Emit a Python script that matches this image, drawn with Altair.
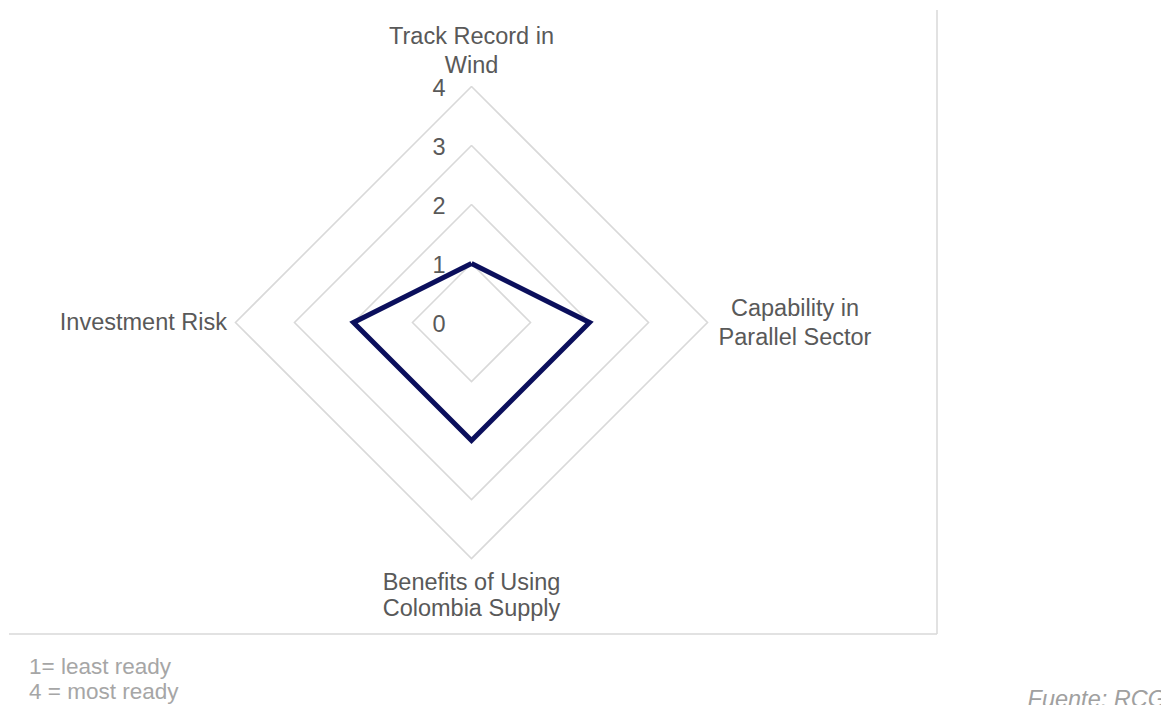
import altair as alt
import pandas as pd
import numpy as np

# ---- data ----
categories = ["Track Record in\nWind", "Capability in\nParallel Sector",
              "Benefits of Using\nColombia Supply", "Investment Risk"]
angles_deg = [0, 90, 180, 270]
values = [1, 2, 2, 2]
ring_levels = [1, 2, 3, 4]
tick_values = [0, 1, 2, 3, 4]
note_lines = ["1= least ready", "4 = most ready"]
source_text = "Fuente:  RCG"

# ---- derived tables ----
def pt(r, a):
    t = np.deg2rad(a)
    return r * np.sin(t), r * np.cos(t)

ring_rows = []
for lvl in ring_levels:
    for i, a in enumerate(angles_deg + [angles_deg[0]]):
        x, y = pt(lvl, a)
        ring_rows.append({"ring": lvl, "idx": i, "x": x, "y": y})
rings = pd.DataFrame(ring_rows)

poly_rows = []
for i, (a, v) in enumerate(zip(angles_deg + [angles_deg[0]], values + [values[0]])):
    x, y = pt(v, a)
    poly_rows.append({"idx": i, "x": x, "y": y})
poly = pd.DataFrame(poly_rows)

outer = max(ring_levels)
lab_rows = []
for c, a in zip(categories, angles_deg):
    x, y = pt(outer, a)
    lab_rows.append({"cat": c, "x": x, "y": y})
labels = pd.DataFrame(lab_rows)

ticks = pd.DataFrame({"v": tick_values, "x": [0] * len(tick_values),
                      "label": [str(t) for t in tick_values]})

# ---- scales: 59 px per unit, centre at page (471.5, 322.5) ----
W, H = 1153, 697
PX = 59.0
cx, cy = 463.5, 314.5
xs = alt.Scale(domain=[-cx / PX, (W - cx) / PX], nice=False, zero=False)
ys = alt.Scale(domain=[-(H - cy) / PX, cy / PX], nice=False, zero=False)
X = lambda f="x": alt.X(f"{f}:Q", scale=xs, axis=None)
Y = lambda f="y": alt.Y(f"{f}:Q", scale=ys, axis=None)

TXT = "#595959"
FONT = "Liberation Sans"
FS = 23.5

grid = alt.Chart(rings).mark_line(color="#d9d9d9", strokeWidth=1.6).encode(
    x=X(), y=Y(), detail="ring:N", order="idx:Q")

shape = alt.Chart(poly).mark_line(color="#0b0f5c", strokeWidth=5,
                                  strokeJoin="miter").encode(
    x=X(), y=Y(), order="idx:Q")

tick_text = alt.Chart(ticks).mark_text(
    align="right", baseline="middle", dx=-26, dy=2,
    font=FONT, fontSize=FS, color=TXT).encode(
    x=X(), y=Y("v"), text="label:N")

# first-line placement offsets relative to each outer vertex
lab_style = [
    dict(align="center", dx=0, dy=-49.5, lineHeight=28.5),
    dict(align="center", dx=87.5, dy=-13.5, lineHeight=28.5),
    dict(align="center", dx=0, dy=24, lineHeight=26.5),
    dict(align="right", dx=-8.5, dy=0.5, lineHeight=28),
]
label_layers = []
for c, st in zip(categories, lab_style):
    label_layers.append(
        alt.Chart(labels).transform_filter(alt.datum.cat == c).mark_text(
            baseline="middle", lineBreak="\n", font=FONT, fontSize=FS,
            color=TXT, **st).encode(x=X(), y=Y(), text="cat:N"))

frame_v = alt.Chart(pd.DataFrame({"k": [0]})).mark_rule(
    color="#d9d9d9", strokeWidth=1.5).encode(
    x=alt.value(929), y=alt.value(2), y2=alt.value(626))
frame_h = alt.Chart(pd.DataFrame({"k": [0]})).mark_rule(
    color="#d9d9d9", strokeWidth=1.5).encode(
    x=alt.value(1), x2=alt.value(929), y=alt.value(626))

note_y = [659, 684]
note_layers = [
    alt.Chart(pd.DataFrame({"t": [t]})).mark_text(
        align="left", baseline="middle", font=FONT, fontSize=22.5,
        color="#a6a6a6").encode(x=alt.value(21), y=alt.value(yy), text="t:N")
    for t, yy in zip(note_lines, note_y)
]

source = alt.Chart(pd.DataFrame({"t": [source_text]})).mark_text(
    align="right", baseline="alphabetic", font=FONT, fontSize=FS,
    fontStyle="italic", color="#a0a0a0").encode(
    x=alt.value(1158), y=alt.value(699), text="t:N")

chart = alt.layer(grid, shape, tick_text, *label_layers, frame_v, frame_h,
                  *note_layers, source).properties(
    width=W, height=H, padding=0,
    autosize=alt.AutoSizeParams(type="none"),
).configure_view(stroke=None)

chart.save("out.html", embed_options={"renderer": "svg", "actions": False})
